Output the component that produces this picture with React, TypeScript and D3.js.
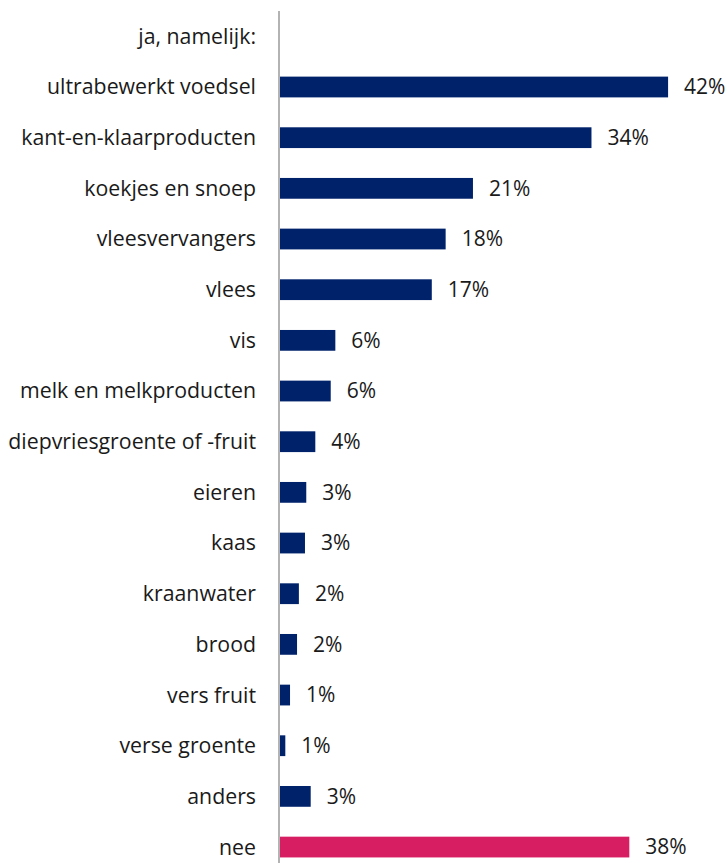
import React from "react";
import * as d3 from "d3";

const categories = [
  "ja, namelijk:",
  "ultrabewerkt voedsel",
  "kant-en-klaarproducten",
  "koekjes en snoep",
  "vleesvervangers",
  "vlees",
  "vis",
  "melk en melkproducten",
  "diepvriesgroente of -fruit",
  "eieren",
  "kaas",
  "kraanwater",
  "brood",
  "vers fruit",
  "verse groente",
  "anders",
  "nee",
];

const values: (number | null)[] = [
  null, 42.1, 33.8, 20.96, 18.0, 16.5, 6.05, 5.55, 3.88, 2.9, 2.76, 2.1, 1.9, 1.14, 0.63, 3.38, 37.9,
];

const labels = [
  "", "42%", "34%", "21%", "18%", "17%", "6%", "6%", "4%", "3%", "3%", "2%", "2%", "1%", "1%", "3%", "38%",
];

const highlight = ["nee"];

const W = 728;
const H = 863;
const x0 = 279.5;
const k = 9.23;

export default function App() {
  const x = d3.scaleLinear().domain([0, 1]).range([x0, x0 + k]);
  const y = d3
    .scaleBand<string>()
    .domain(categories)
    .range([11, 11 + 50.67 * categories.length])
    .paddingInner(0.59)
    .paddingOuter(0.295);
  const bw = y.bandwidth();
  return (
    <svg
      width={W}
      height={H}
      style={{ position: "absolute", left: 0, top: 0, display: "block" }}
      fontFamily="'Open Sans', sans-serif"
    >
      {categories.map((c, i) => {
        const v = values[i];
        const yc = (y(c) as number) + bw / 2;
        return (
          <g key={c}>
            <text x={256} y={yc} dy="0.35em" textAnchor="end" fontSize={21.3} fill="#1a1a1a">
              {c}
            </text>
            {v !== null && (
              <>
                <rect
                  x={x(0)}
                  y={y(c) as number}
                  width={x(v) - x(0)}
                  height={bw}
                  fill={highlight.includes(c) ? "#D81E63" : "#00226B"}
                />
                <text x={x(v) + 16} y={yc} dy="0.35em" fontSize={21} fill="#1a1a1a">
                  {labels[i]}
                </text>
              </>
            )}
          </g>
        );
      })}
      <line x1={x0 - 0.5} x2={x0 - 0.5} y1={11} y2={y.range()[1]} stroke="#B3B3B3" strokeWidth={2} />
    </svg>
  );
}
